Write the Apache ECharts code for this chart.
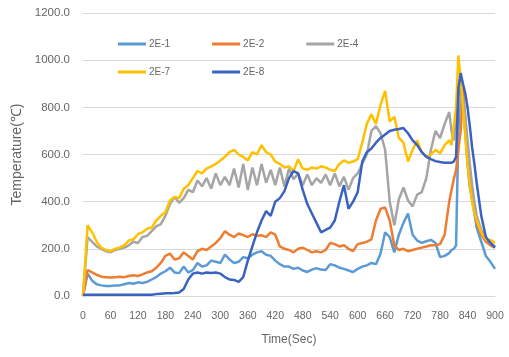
<!DOCTYPE html>
<html>
<head>
<meta charset="utf-8">
<script src="https://cdn.jsdelivr.net/npm/echarts@6/dist/echarts.min.js"></script>
<style>
html,body{margin:0;padding:0;background:#fff;}
#c{width:509px;height:357px;}
</style>
</head>
<body>
<div id="c"></div>
<script>
const times = [0,10,20,30,40,50,60,70,80,90,100,110,120,130,140,150,160,170,180,190,200,210,220,230,240,250,260,270,280,290,300,310,320,330,340,350,360,370,380,390,400,410,420,430,440,450,460,470,480,490,500,510,520,530,540,550,560,570,580,590,600,610,620,630,640,650,660,670,680,690,700,710,720,730,740,750,760,770,780,790,800,805,810,815,820,825,830,835,840,845,850,855,860,870,880,890,900];

const s2E1 = [0,95,65,50,45,42,42,45,45,50,
  55,52,58,55,60,70,80,95,105,120,
  100,97,125,100,110,140,125,130,150,145,
  140,175,155,140,145,165,160,175,185,190,
  175,170,150,135,125,125,115,120,108,102,
  112,118,112,110,135,130,120,115,108,102,
  115,125,130,140,135,180,270,250,185,260,
  310,350,260,235,225,232,238,225,165,170,
  182,195,200,215,700,890,820,700,560,460,410,350,290,230,
  170,145,115,100];

const s2E2 = [0,110,100,90,82,80,78,80,82,80,
  85,88,85,92,100,105,120,140,170,180,
  155,160,185,170,155,190,200,195,210,225,
  245,275,260,250,265,258,250,262,255,258,
  250,270,260,210,200,195,185,200,205,195,
  185,190,185,195,225,220,210,215,200,190,
  220,225,230,240,320,370,375,320,215,195,
  200,190,195,200,205,210,215,215,220,260,
  400,450,495,535,620,700,880,760,620,520,430,360,310,
  260,230,215,205];

const s2E4 = [0,250,230,210,200,190,185,195,200,205,
  215,230,225,250,255,275,295,305,340,390,
  420,395,415,450,440,490,465,500,455,520,
  470,505,470,540,460,560,450,545,470,560,
  480,535,470,545,465,540,495,520,470,515,
  470,500,480,515,470,520,465,505,450,500,
  520,560,600,700,720,690,620,400,300,410,
  460,405,380,430,440,500,620,700,670,730,
  780,700,660,770,800,850,840,760,660,560,470,400,340,
  280,245,225,210];

const s2E7 = [0,300,270,230,205,195,190,200,205,215,
  235,240,262,270,285,290,320,340,355,405,
  420,415,455,470,500,530,520,540,550,560,
  575,590,610,620,600,590,575,610,600,640,
  610,600,570,560,545,550,530,580,540,535,
  545,540,550,545,535,530,560,575,565,570,
  580,650,730,770,730,810,870,740,760,670,
  650,570,620,660,610,590,600,620,605,640,
  660,640,720,800,1020,920,800,680,560,470,400,350,320,
  270,240,238,225];

const s2E8 = [5,5,5,5,5,5,5,5,5,5,
  5,5,5,5,5,5,8,10,12,12,
  13,15,30,70,95,100,95,100,98,100,
  95,80,70,68,60,80,150,210,270,320,
  360,340,400,415,445,500,530,520,450,390,
  350,310,270,280,290,320,400,470,370,400,
  440,570,610,625,650,670,685,700,705,708,
  712,690,660,640,610,590,580,572,568,565,
  565,565,570,590,880,945,900,860,800,720,630,560,480,
  340,250,225,205];

const seriesNames = ['2E-1','2E-2','2E-4','2E-7','2E-8'];
const seriesData = [s2E1, s2E2, s2E4, s2E7, s2E8];
const colors = ['#5B9BD5','#ED7D31','#A5A5A5','#FFC000','#3A62C2'];

const yTicks = [0,200,400,600,800,1000,1200];
const xTickStep = 60;

const FONT = 'Liberation Sans, sans-serif';
const TXT = '#666666';

const legendBase = {left: 113, itemWidth: 28, itemHeight: 3, itemGap: 42, icon: 'rect',
  textStyle: {color: TXT, fontSize: 10, fontFamily: FONT, padding: [0,0,0,-2]}};

const chart = echarts.init(document.getElementById('c'), null, {renderer:'canvas'});
chart.setOption({
  animation: false,
  backgroundColor: '#ffffff',
  grid: {left: 83, right: 14, top: 13, bottom: 61, containLabel: false},
  legend: [
    Object.assign({}, legendBase, {data: seriesNames.slice(0,3), top: 34}),
    Object.assign({}, legendBase, {data: seriesNames.slice(3), top: 62})
  ],
  xAxis: {
    type: 'value', min: 0, max: 900, interval: xTickStep,
    name: 'Time(Sec)', nameLocation: 'middle', nameGap: 38,
    nameTextStyle: {color: TXT, fontSize: 12, fontFamily: FONT},
    axisLine: {show: true, lineStyle: {color: '#D9D9D9', width: 1}},
    axisTick: {show: false},
    splitLine: {show: false},
    axisLabel: {color: TXT, fontSize: 10.5, fontFamily: FONT, margin: 15}
  },
  yAxis: {
    type: 'value', min: yTicks[0], max: yTicks[yTicks.length-1], interval: 200,
    name: 'Temperature(℃)', nameLocation: 'middle', nameGap: 58, nameRotate: 90,
    nameTextStyle: {color: TXT, fontSize: 14, fontFamily: FONT},
    axisLine: {show: false},
    axisTick: {show: false},
    splitLine: {show: true, lineStyle: {color: '#D9D9D9', width: 1}},
    axisLabel: {color: TXT, fontSize: 11.5, fontFamily: FONT, margin: 13,
      formatter: v => v.toFixed(1)}
  },
  series: seriesNames.map((n, i) => ({
    name: n,
    type: 'line',
    symbol: 'none',
    smooth: false,
    color: colors[i],
    lineStyle: {width: 2.5, color: colors[i]},
    data: times.map((t, k) => [t, seriesData[i][k]])
  }))
});
</script>
</body>
</html>
